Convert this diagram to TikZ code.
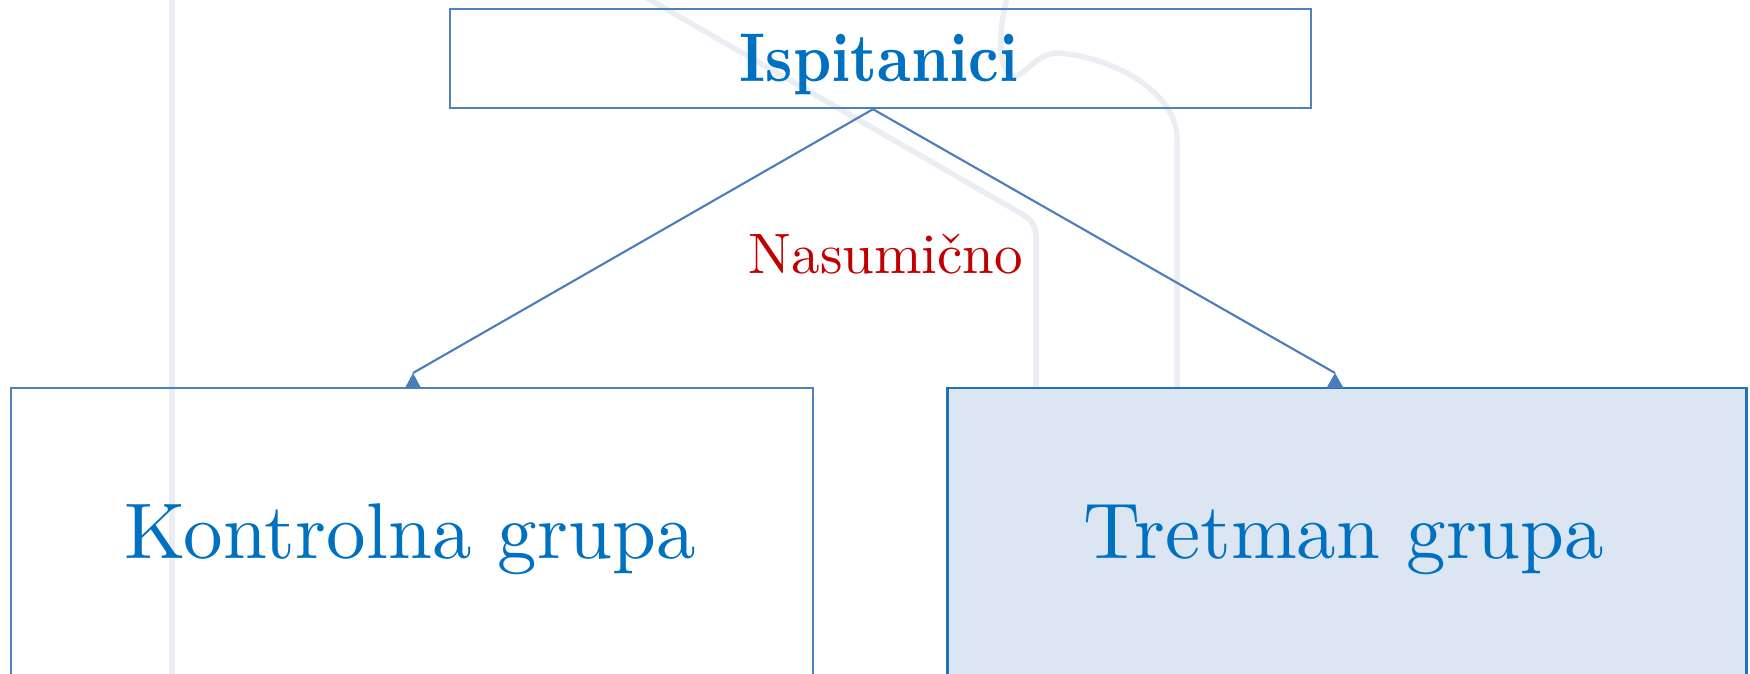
\documentclass[tikz,border=0pt]{standalone}
\usepackage{fontspec}
\setmainfont{lmroman10-regular}[Extension=.otf, BoldFont=lmroman10-bold]
\newfontfamily\headfont{lmroman10-bold}[Extension=.otf, FakeStretch=0.87]
\usetikzlibrary{calc}
\definecolor{txtblue}{HTML}{0070C0}
\definecolor{txtred}{HTML}{C00000}
\definecolor{boxline}{HTML}{4F81BD}
\definecolor{boxline2}{HTML}{1F72BF}
\definecolor{boxfill}{HTML}{DCE6F2}
\definecolor{arrowc}{HTML}{4A7EBB}
\definecolor{wmark}{HTML}{EAEDF1}
\tikzset{
  x=1pt, y=1pt,
  wm/.style={draw=wmark, line width=5.5pt, line cap=round, line join=round},
  framebox/.style={draw=boxline, line width=2.4pt, inner sep=0pt},
  conn/.style={draw=arrowc, line width=2.1pt},
  tipfill/.style={fill=arrowc},
  lbl/.style={inner sep=0pt, anchor=base, text=txtblue}
}
\begin{document}
\begin{tikzpicture}
\useasboundingbox (0,0) rectangle (1750,674);
\clip (0,0) rectangle (1750,674);
% faint background watermark strokes
\draw[wm] (172,680) -- (172,-5);
\draw[wm] (640,680) -- (1022,460) .. controls (1032,454) and (1036,448) .. (1036,436) -- (1036,287);
\draw[wm] (1008,680) .. controls (997,640) and (998,600) .. (1014,598)
  .. controls (1024,597) and (1036,621) .. (1058,621)
  .. controls (1120,616) and (1177,578) .. (1177,536) -- (1177,287);
% boxes
\node[framebox, minimum width=861pt, minimum height=99pt] (ip) at (880.5,615.5) {};
\node[framebox, line width=2.2pt, minimum width=802pt, minimum height=320pt, anchor=north west] (kg) at (10,287) {};
\node[draw=boxline2, fill=boxfill, line width=2.5pt, inner sep=0pt, minimum width=799pt, minimum height=320pt, anchor=north west] (tg) at (946,287) {};
% labels
\node[lbl] (ipl) at (879,592) {\headfont\fontsize{69}{80}\selectfont Ispitanici};
\node[lbl, text=txtred] (nas) at (886,400) {\fontsize{57}{64}\selectfont Nasumično};
\node[lbl] (kgl) at (410,115) {\fontsize{79}{90}\selectfont Kontrolna grupa};
\node[lbl] (tgl) at (1344,115) {\fontsize{79}{90}\selectfont Tretman grupa};
% connectors
\coordinate (lt) at ($(kg.north west)+(403,14)$);
\coordinate (rt) at ($(tg.north west)+(389,14)$);
\draw[conn] ($(ip.south)+(-7.5,0)$) -- (lt);
\draw[conn] ($(ip.south)+(-7.5,0)$) -- (rt);
\fill[tipfill] (lt) -- ++(-8,-15) -- ++(16,0) -- cycle;
\fill[tipfill] (rt) -- ++(-8.5,-15) -- ++(17,0) -- cycle;
\end{tikzpicture}
\end{document}
